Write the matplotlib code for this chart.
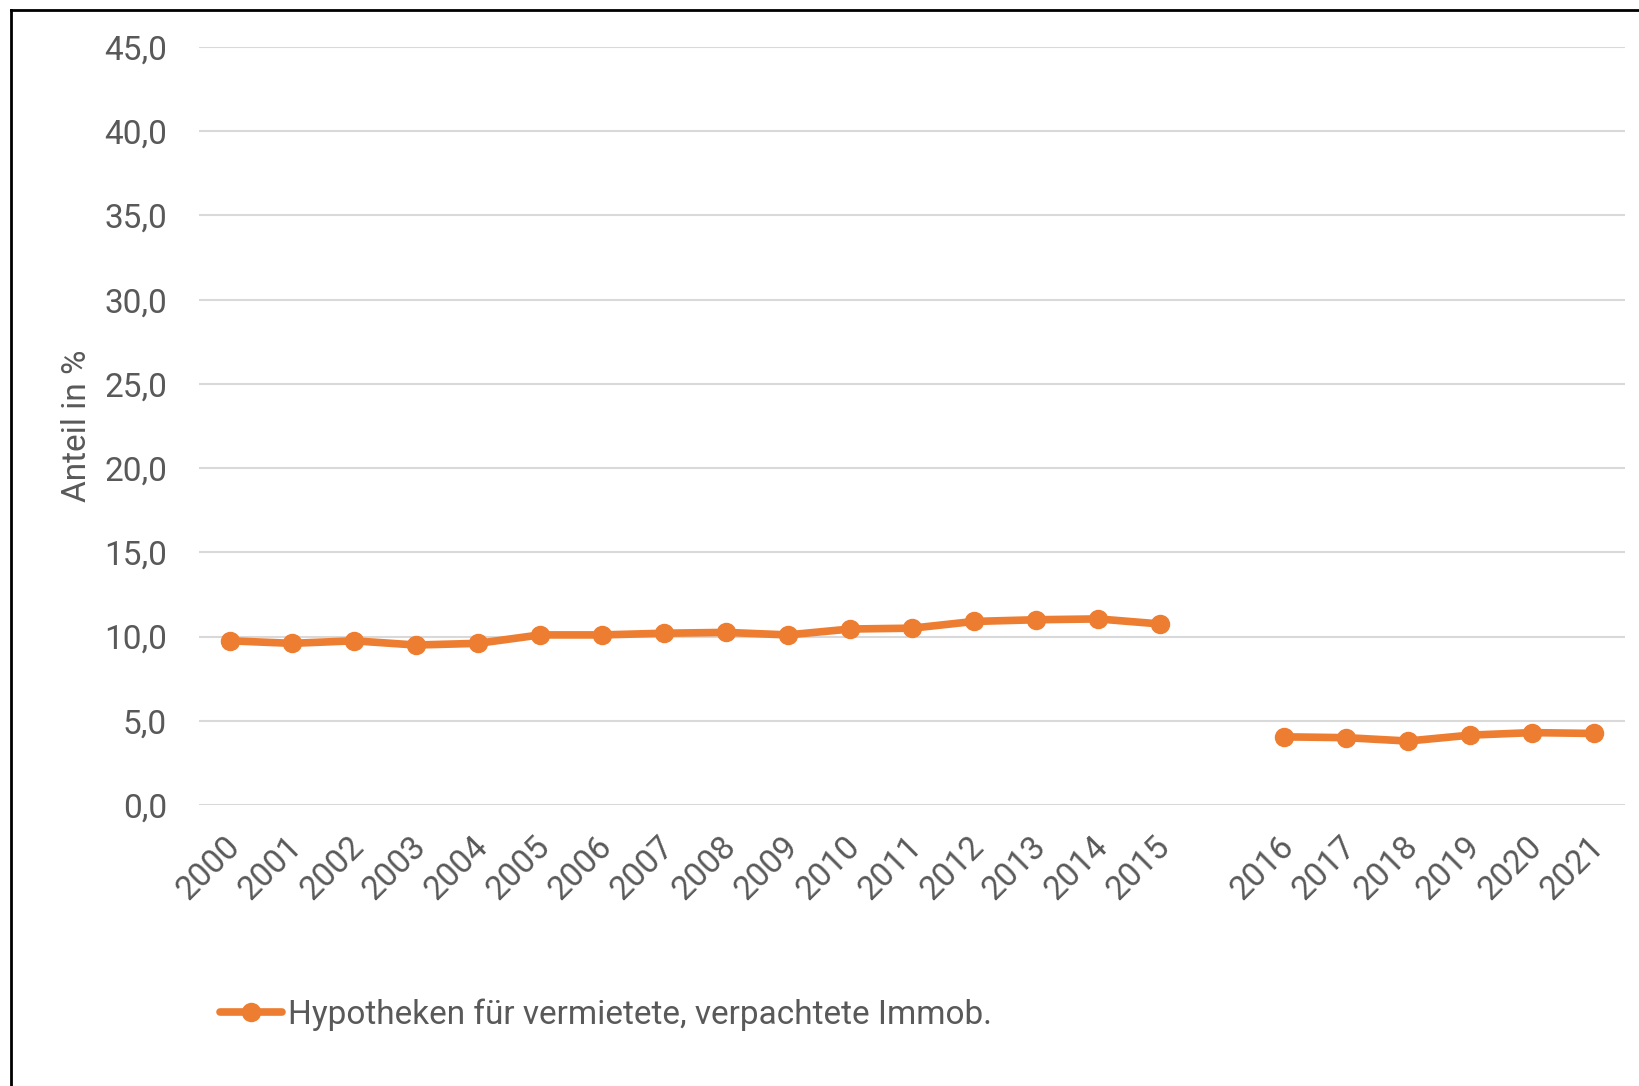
import numpy as np
import matplotlib
matplotlib.use("Agg")
import matplotlib.pyplot as plt
import matplotlib.transforms as mtransforms
from matplotlib.ticker import FuncFormatter

# categories (empty slot between 2015 and 2016)
years = ['2000', '2001', '2002', '2003', '2004', '2005', '2006', '2007', '2008', '2009',
         '2010', '2011', '2012', '2013', '2014', '2015', '',
         '2016', '2017', '2018', '2019', '2020', '2021']
anteil = [9.75, 9.6, 9.75, 9.5, 9.6, 10.1, 10.1, 10.2, 10.25, 10.1,
          10.45, 10.5, 10.9, 11.0, 11.05, 10.75, np.nan,
          4.05, 4.0, 3.8, 4.15, 4.3, 4.25]
series_name = 'Hypotheken für vermietete, verpachtete Immob.'

plt.rcParams['font.family'] = ['Roboto', 'DejaVu Sans']
grey = '#595959'
orange = '#ED7D31'

fig = plt.figure(figsize=(16.39, 10.86), dpi=100)
ax = fig.add_axes([0.1214, 0.2587, 0.8701, 0.698])

x = np.arange(len(years))
ax.plot(x, anteil, color=orange, lw=5.5, marker='o', ms=13, label=series_name,
        solid_capstyle='round', zorder=3)

ax.set_ylim(0, 45)
ax.set_xlim(-0.5, len(years) - 0.5)
ax.set_yticks(np.arange(0, 46, 5))
ax.yaxis.set_major_formatter(FuncFormatter(lambda v, p: f'{v:.1f}'.replace('.', ',')))
ax.set_xticks(x)
ax.set_xticklabels(years, rotation=45, ha='right', va='top', rotation_mode='anchor')
ax.tick_params(axis='both', length=0, labelsize=24, labelcolor=grey)
ax.tick_params(axis='x', pad=18)
ax.tick_params(axis='y', pad=23)
shift = mtransforms.ScaledTranslation(-6 / 100, 0, fig.dpi_scale_trans)
for lab in ax.get_xticklabels():
    lab.set_transform(lab.get_transform() + shift)
ax.grid(axis='y', color='#D9D9D9', lw=1.5)
ax.set_axisbelow(True)
for s in ax.spines.values():
    s.set_visible(False)

ax.set_ylabel('Anteil in %', fontsize=24, color=grey)
ax.yaxis.set_label_coords(-0.074, 0.5)

leg = fig.legend(loc='center left', bbox_to_anchor=(0.116, 0.066), frameon=False,
                 handlelength=1.85, handletextpad=0.2, prop={'size': 24})
for t in leg.get_texts():
    t.set_color(grey)

# outer frame (left and top edges visible)
fig.add_artist(plt.Line2D([0.0067, 0.0067], [0.0, 0.991], color='black', lw=2,
                          transform=fig.transFigure))
fig.add_artist(plt.Line2D([0.0067, 1.0], [0.991, 0.991], color='black', lw=2,
                          transform=fig.transFigure))

fig.savefig('out.png', dpi=100)
